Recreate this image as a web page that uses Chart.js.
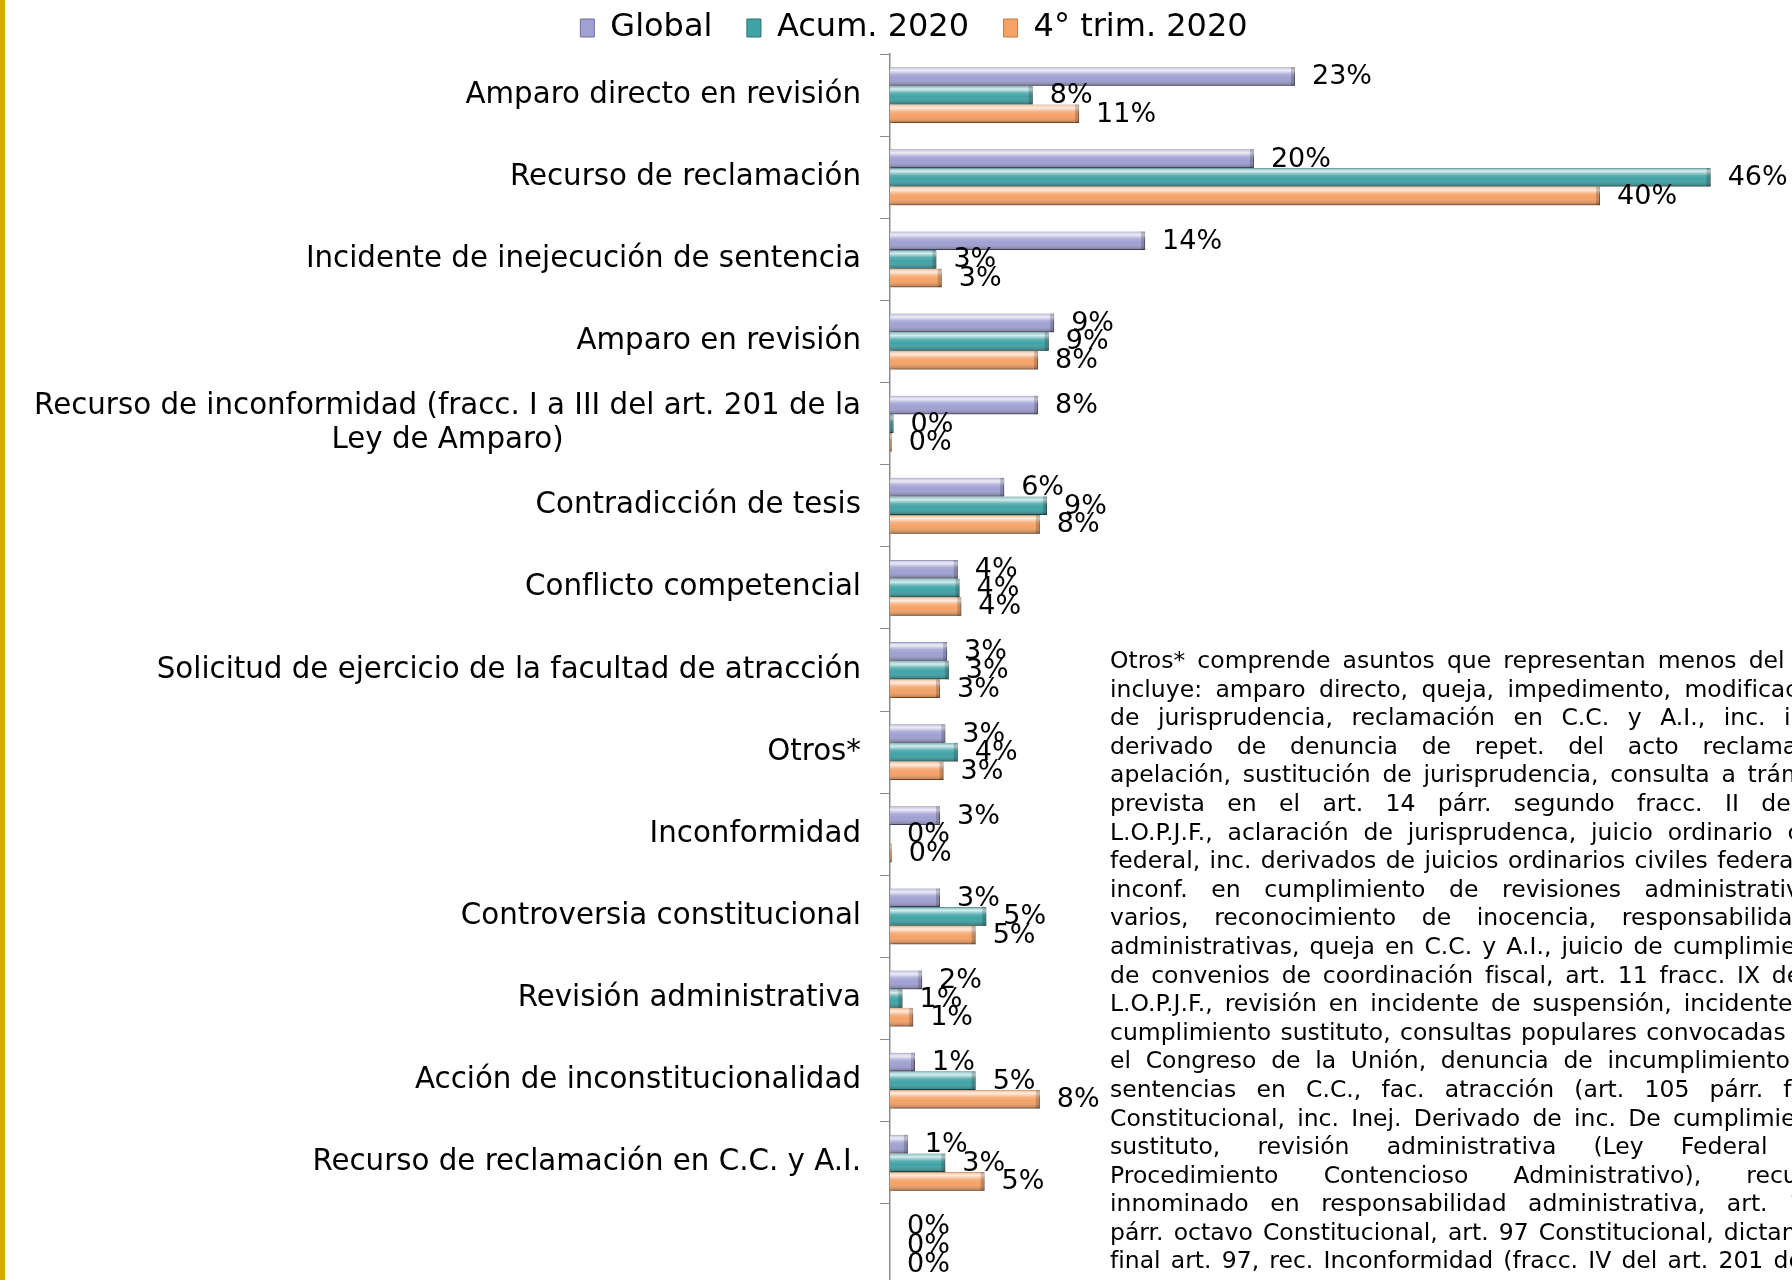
<!DOCTYPE html>
<html lang="es">
<head>
<meta charset="utf-8">
<title>Asuntos ingresados por tipo</title>
<script src="https://cdn.jsdelivr.net/npm/chart.js@4.4.1/dist/chart.umd.min.js"></script>
<style>
  html, body { margin: 0; padding: 0; background: #fff; overflow: hidden; }
  #lienzo { position: relative; width: 1792px; height: 1300px; }
  #franja { position: absolute; left: 0; top: 0; width: 5px; height: 1300px; background: #d4aa00; }
  #nota { position: absolute; left: 1110px; top: 646px; width: 724px;
          font-family: "DejaVu Sans", sans-serif; font-size: 23.5px; line-height: 28.6px; color: #000; }
  #nota div { text-align: justify; text-align-last: justify; }
</style>
</head>
<body>
<div id="lienzo">
  <canvas id="grafica" width="1792" height="1300"></canvas>
  <div id="franja"></div>
  <div id="nota"></div>
</div>
<script>
/* --- Datos --- */
const categorias = [
  'Amparo directo en revisión',
  'Recurso de reclamación',
  'Incidente de inejecución de sentencia',
  'Amparo en revisión',
  ['Recurso de inconformidad (fracc. I a III del art. 201 de la', 'Ley de Amparo)'],
  'Contradicción de tesis',
  'Conflicto competencial',
  'Solicitud de ejercicio de la facultad de atracción',
  'Otros*',
  'Inconformidad',
  'Controversia constitucional',
  'Revisión administrativa',
  'Acción de inconstitucionalidad',
  'Recurso de reclamación en C.C. y A.I.',
  ''
];
const series = ['Global', 'Acum. 2020', '4° trim. 2020'];
const global = [22.7, 20.4, 14.3, 9.2, 8.3, 6.4, 3.8, 3.2, 3.1, 2.8, 2.8, 1.8, 1.4, 1.0, 0];
const acum2020 = [8.0, 46.0, 2.6, 8.9, 0.2, 8.8, 3.9, 3.3, 3.8, 0.0, 5.4, 0.7, 4.8, 3.1, 0];
const trim4 = [10.6, 39.8, 2.9, 8.3, 0.1, 8.4, 4.0, 2.8, 3.0, 0.1, 4.8, 1.3, 8.4, 5.3, 0];

const notaLineas = [
  'Otros* comprende asuntos que representan menos del 1%',
  'incluye: amparo directo, queja, impedimento, modificación',
  'de jurisprudencia, reclamación en C.C. y A.I., inc. inej.',
  'derivado de denuncia de repet. del acto reclamado,',
  'apelación, sustitución de jurisprudencia, consulta a trámite',
  'prevista en el art. 14 párr. segundo fracc. II de la',
  'L.O.P.J.F., aclaración de jurisprudenca, juicio ordinario civil',
  'federal, inc. derivados de juicios ordinarios civiles federales,',
  'inconf. en cumplimiento de revisiones administrativas,',
  'varios, reconocimiento de inocencia, responsabilidades',
  'administrativas, queja en C.C. y A.I., juicio de cumplimiento',
  'de convenios de coordinación fiscal, art. 11 fracc. IX de la',
  'L.O.P.J.F., revisión en incidente de suspensión, incidente de',
  'cumplimiento sustituto, consultas populares convocadas por',
  'el Congreso de la Unión, denuncia de incumplimiento de',
  'sentencias en C.C., fac. atracción (art. 105 párr. final',
  'Constitucional, inc. Inej. Derivado de inc. De cumplimiento',
  'sustituto, revisión administrativa (Ley Federal de',
  'Procedimiento Contencioso Administrativo), recurso',
  'innominado en responsabilidad administrativa, art. 100',
  'párr. octavo Constitucional, art. 97 Constitucional, dictamen',
  'final art. 97, rec. Inconformidad (fracc. IV del art. 201 de la'
];

const nota = document.getElementById('nota');
notaLineas.forEach(t => {
  const div = document.createElement('div');
  div.textContent = t;
  nota.appendChild(div);
});

/* --- Barras con relieve y etiquetas de valor --- */
const relieve = {
  id: 'relieve',
  beforeDatasetsDraw(chart) {
    const ctx = chart.ctx;
    ctx.save();
    ctx.shadowColor = 'rgba(0,0,0,0.3)';
    ctx.shadowBlur = 4;
    ctx.shadowOffsetX = 2;
    ctx.shadowOffsetY = 3;
  },
  afterDatasetsDraw(chart) {
    const ctx = chart.ctx;
    ctx.restore();
    chart.data.datasets.forEach((ds, d) => {
      chart.getDatasetMeta(d).data.forEach((bar, i) => {
        const p = bar.getProps(['x', 'y', 'base', 'height'], true);
        const x0 = Math.min(p.base, p.x);
        const w = Math.abs(p.x - p.base);
        const y0 = p.y - p.height / 2;
        if (w >= 1) {
          const g = ctx.createLinearGradient(0, y0, 0, y0 + p.height);
          g.addColorStop(0, 'rgba(255,255,255,0.25)');
          g.addColorStop(0.18, 'rgba(255,255,255,0.8)');
          g.addColorStop(0.4, 'rgba(255,255,255,0.15)');
          g.addColorStop(0.6, 'rgba(255,255,255,0)');
          g.addColorStop(1, 'rgba(0,0,0,0.3)');
          ctx.fillStyle = g;
          ctx.fillRect(x0, y0, w, p.height);
          // extremo biselado
          const cap = Math.min(4, w);
          ctx.fillStyle = 'rgba(0,0,0,0.18)';
          ctx.fillRect(x0 + w - cap, y0, cap, p.height);
        }
        ctx.save();
        ctx.font = '27px "DejaVu Sans"';
        ctx.fillStyle = '#000';
        ctx.textAlign = 'left';
        ctx.textBaseline = 'middle';
        ctx.fillText(Math.round(ds.data[i]) + '%', x0 + w + 17, p.y + 1);
        ctx.restore();
      });
    });
  }
};

/* --- Etiquetas de categorias --- */
const etiquetasCategorias = {
  id: 'etiquetasCategorias',
  afterDraw(chart) {
    const ctx = chart.ctx;
    const ys = chart.scales.y;
    const derecha = ys.right - 29;
    ctx.save();
    ctx.font = '29.3px "DejaVu Sans"';
    ctx.fillStyle = '#000';
    ctx.textBaseline = 'middle';
    chart.data.labels.forEach((lab, i) => {
      const yc = ys.getPixelForValue(i);
      const lineas = Array.isArray(lab) ? lab : [lab];
      const anchoMax = Math.max(...lineas.map(l => ctx.measureText(l).width));
      lineas.forEach((l, k) => {
        const y = yc + (k - (lineas.length - 1) / 2) * 34;
        if (lineas.length > 1) {
          ctx.textAlign = 'center';
          ctx.fillText(l, derecha - anchoMax / 2, y);
        } else {
          ctx.textAlign = 'right';
          ctx.fillText(l, derecha, y);
        }
      });
    });
    ctx.restore();
  }
};

new Chart(document.getElementById('grafica').getContext('2d'), {
  type: 'bar',
  data: {
    labels: categorias,
    datasets: [
      { label: series[0], data: global, backgroundColor: '#a0a0d2', borderColor: '#6f6f9c', borderWidth: 1 },
      { label: series[1], data: acum2020, backgroundColor: '#3fa3a6', borderColor: '#2a7073', borderWidth: 1 },
      { label: series[2], data: trim4, backgroundColor: '#f5a266', borderColor: '#c87a45', borderWidth: 1 }
    ]
  },
  options: {
    indexAxis: 'y',
    responsive: false,
    animation: false,
    categoryPercentage: 0.68,
    barPercentage: 1,
    layout: { padding: { top: 8, right: 10, bottom: 14, left: 46 } },
    scales: {
      x: { display: false, min: 0, max: 50 },
      y: {
        grid: { drawOnChartArea: false, drawTicks: true, tickLength: 10, color: '#8c8c8c', offset: true },
        border: { color: '#8c8c8c', width: 1.5 },
        ticks: { display: false },
        afterFit(scale) { scale.width = 844; }
      }
    },
    plugins: {
      tooltip: { enabled: false },
      legend: {
        position: 'top',
        labels: {
          color: '#000',
          font: { family: 'DejaVu Sans', size: 32 },
          boxWidth: 14,
          boxHeight: 18,
          padding: 4,
          generateLabels(chart) {
            const items = Chart.defaults.plugins.legend.labels.generateLabels(chart);
            items.forEach((it, i) => { if (i < items.length - 1) it.text += '   '; });
            return items;
          }
        }
      }
    }
  },
  plugins: [relieve, etiquetasCategorias]
});
</script>
</body>
</html>
